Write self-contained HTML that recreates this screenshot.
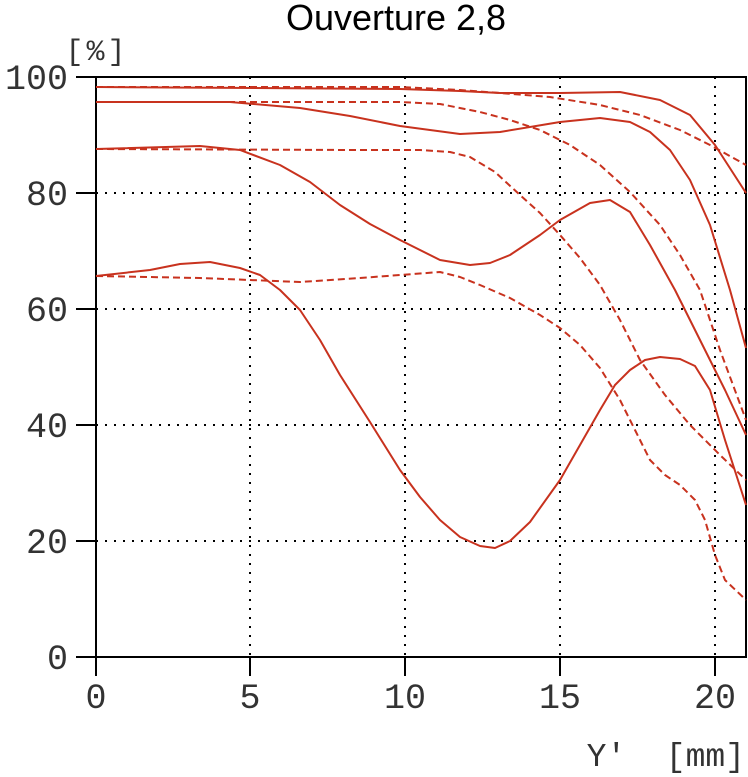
<!DOCTYPE html>
<html><head><meta charset="utf-8"><style>body{margin:0;background:#fff}svg{display:block}</style></head><body>
<svg width="748" height="777" viewBox="0 0 748 777" xmlns="http://www.w3.org/2000/svg">
<text x="396" y="30" font-family="Liberation Sans, sans-serif" font-size="36" text-anchor="middle">Ouverture 2,8</text>
<text x="97" y="60" font-family="Liberation Mono, monospace" font-size="30" text-anchor="middle" letter-spacing="3" fill="#333">[%]</text>
<g stroke="#000" stroke-width="2" stroke-dasharray="2,7" fill="none">
<line x1="250" y1="77" x2="250" y2="657"/><line x1="405" y1="77" x2="405" y2="657"/><line x1="560" y1="77" x2="560" y2="657"/><line x1="715" y1="77" x2="715" y2="657"/>
<line x1="96" y1="193" x2="746" y2="193"/><line x1="96" y1="309" x2="746" y2="309"/><line x1="96" y1="425" x2="746" y2="425"/><line x1="96" y1="541" x2="746" y2="541"/>
</g>
<g stroke="#000" stroke-width="2" fill="none">
<path d="M96 77 H746 V657 H96 Z"/>
<path d="M76 77H96M76 193H96M76 309H96M76 425H96M76 541H96M76 657H96"/>
<path d="M96 657V676M250 657V676M405 657V676M560 657V676M715 657V676"/>
</g>
<g font-family="Liberation Mono, monospace" font-size="35" fill="#333" text-anchor="end">
<text x="68" y="89">100</text><text x="68" y="205">80</text><text x="68" y="321">60</text><text x="68" y="437">40</text><text x="68" y="553">20</text><text x="68" y="669">0</text>
</g>
<g font-family="Liberation Mono, monospace" font-size="35" fill="#333" text-anchor="middle">
<text x="96" y="708">0</text><text x="250" y="708">5</text><text x="405" y="708">10</text><text x="560" y="708">15</text><text x="715" y="708">20</text>
<text x="745" y="766" text-anchor="end" font-size="33" xml:space="preserve">Y'  [mm]</text>
</g>
<g stroke="#c8321e" stroke-width="2" fill="none" stroke-linejoin="round">
<polyline points="96,87 400,89 460,91 500,93 560,93 620,92 660,100 690,115 715,145 746,193"/>
<polyline points="96,102 230,102 300,108 350,116 400,126 460,134 500,132 560,122 600,118 630,122 650,132 670,150 690,180 710,225 730,290 746,348"/>
<polyline points="96,149 200,146 240,150 280,165 310,182 340,205 370,224 400,240 440,260 470,265 490,263 510,255 540,235 560,220 590,203 610,200 630,212 650,245 675,290 700,340 725,390 746,435"/>
<polyline points="96,276 150,270 180,264 210,262 240,268 260,275 280,290 300,310 320,340 340,375 370,422 400,470 420,497 440,520 460,537 480,546 495,548 510,541 530,522 560,480 580,445 600,410 615,385 630,370 645,360 660,357 680,359 695,366 710,390 725,440 746,505"/>
<g stroke-dasharray="7,4">
<polyline points="96,87 400,87 460,90 500,93 550,97 600,105 640,115 680,130 710,145 746,165"/>
<polyline points="96,102 400,102 440,104 480,112 510,120 540,130 570,145 600,165 630,192 660,225 680,255 700,290 720,350 746,420"/>
<polyline points="96,149 350,150 420,150 450,152 470,157 495,172 520,195 540,213 560,235 580,258 600,285 620,320 640,360 665,395 690,425 720,455 746,480"/>
<polyline points="96,276 200,278 300,282 360,278 400,275 440,272 460,277 480,285 510,298 540,315 560,328 580,345 600,368 620,400 635,430 650,460 665,475 680,485 695,500 705,520 715,555 725,580 746,600"/>
</g>
</g>
</svg>
</body></html>
